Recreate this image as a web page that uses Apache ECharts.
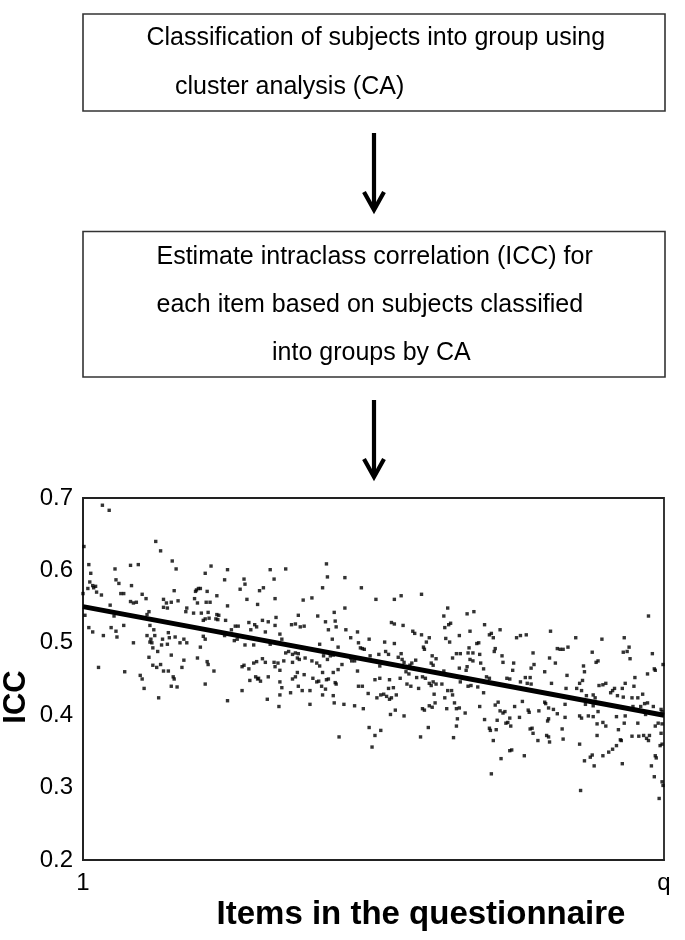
<!DOCTYPE html>
<html>
<head>
<meta charset="utf-8">
<script src="https://cdn.jsdelivr.net/npm/echarts@6/dist/echarts.min.js"></script>
<style>
html,body{margin:0;padding:0;background:#fff;}
#chart{width:685px;height:940px;}
</style>
</head>
<body>
<div id="chart"></div>
<script>
// ---------- data ----------
const FONT = '"Liberation Sans", Arial, Helvetica, sans-serif';
const box1Lines = ['Classification of subjects into group using', 'cluster analysis (CA)'];
const box2Lines = ['Estimate intraclass correlation (ICC) for', 'each item based on subjects classified', 'into groups by CA'];
const yAxisTitle = 'ICC';
const xAxisTitle = 'Items in the questionnaire';
const yTickRange = [0.2, 0.7];
const yTickStep = 0.1;
const itemRange = [1, 600];           // item 1 ... item q
const xTickValues = [1, 600];
const xTickLabels = ['1', 'q'];
const fitLineX = [1, 600];
const fitLineY = [0.55, 0.40];

// [item index, ICC]
const pointsA = [
[21,0.690],[28,0.683],[2,0.633],[76,0.640],[81,0.627],[7,0.608],[9,0.596],[34,0.602],[50,0.607],[58,0.608],[93,0.613],[97,0.602],[127,0.596],[133,0.606],[8,0.584],[35,0.587],[38,0.582],[51,0.579],[11,0.579],[14,0.578],[12,0.576],[6,0.575],[1,0.568],[15,0.570],[20,0.566],[40,0.568],[43,0.568],[62,0.567],[66,0.561],[84,0.560],[95,0.572],[118,0.573],[120,0.575],[117,0.571],[122,0.575],[129,0.571],[139,0.565],[116,0.561],
[50,0.557],[53,0.555],[56,0.556],[87,0.555],[92,0.556],[88,0.548],[84,0.549],[99,0.558],[108,0.548],[107,0.543],[119,0.555],[128,0.556],[132,0.556],[29,0.552],[3,0.538],[33,0.537],[69,0.543],[67,0.539],[115,0.541],[123,0.541],[130,0.542],[127,0.533],[125,0.531],[131,0.534],[139,0.539],[140,0.532],[7,0.521],[11,0.515],[22,0.510],[30,0.521],[35,0.516],[36,0.508],[43,0.524],[70,0.524],[74,0.518],[67,0.510],[71,0.505],[75,0.510],[83,0.505],[82,0.497],[72,0.500],[70,0.501],[73,0.493],[78,0.488],[89,0.514],[90,0.507],[88,0.498],[96,0.508],[101,0.500],[105,0.505],[108,0.500],[125,0.509],[127,0.505],[53,0.500],[122,0.494],[92,0.483],[69,0.480],[105,0.476],[103,0.466],[119,0.479],[129,0.474],[130,0.470],[136,0.461],[17,0.466],[44,0.460],[73,0.469],[77,0.466],[81,0.470],[84,0.461],[89,0.461],[60,0.455],[62,0.450],[64,0.437],[94,0.453],[95,0.450],[92,0.440],[98,0.439],[127,0.443],[79,0.424]
];
const pointsB = [
[150,0.601],[147,0.587],[167,0.588],[168,0.581],[163,0.574],[194,0.601],[210,0.602],[198,0.588],[183,0.572],[187,0.576],[252,0.609],[253,0.591],[271,0.590],[248,0.576],[288,0.576],[170,0.560],[199,0.561],[228,0.559],[237,0.562],
[150,0.551],[181,0.553],[141,0.538],[138,0.533],[148,0.531],[154,0.518],[158,0.523],[161,0.523],[172,0.528],[174,0.518],[178,0.525],[180,0.522],[186,0.531],[192,0.529],[200,0.535],[199,0.524],[189,0.515],[204,0.512],[206,0.505],[216,0.525],[220,0.526],[223,0.538],[225,0.522],[229,0.523],[243,0.537],[251,0.529],[260,0.542],[261,0.530],[262,0.522],[254,0.518],[271,0.548],[272,0.518],[277,0.507],[284,0.515],[258,0.505],[285,0.500],[287,0.493],[289,0.492],[147,0.510],
[157,0.503],[160,0.505],[168,0.497],[177,0.497],[194,0.498],[210,0.486],[213,0.488],[217,0.484],[220,0.486],[223,0.485],[222,0.479],[224,0.477],[230,0.479],[245,0.498],[249,0.482],[253,0.477],[256,0.482],[259,0.483],[264,0.494],[277,0.479],[278,0.475],[281,0.475],[268,0.470],[284,0.461],[165,0.467],[167,0.469],[172,0.464],[177,0.472],[180,0.474],[186,0.478],[189,0.473],[198,0.473],[199,0.467],[202,0.472],[204,0.462],[208,0.475],[217,0.473],[222,0.459],[229,0.456],[237,0.475],[242,0.472],[245,0.468],[248,0.459],[259,0.459],[264,0.463],
[173,0.448],[179,0.453],[181,0.450],[184,0.447],[182,0.451],[192,0.453],[204,0.446],[206,0.438],[217,0.450],[220,0.453],[223,0.440],[227,0.434],[235,0.434],[238,0.451],[242,0.446],[244,0.447],[247,0.440],[251,0.436],[252,0.449],[254,0.450],[261,0.445],[262,0.443],[165,0.434],[150,0.420],[191,0.422],[204,0.428],[215,0.431],[203,0.412],[235,0.415],[248,0.428],[259,0.427],[260,0.417],[270,0.415],[281,0.413],[290,0.409],[285,0.440],[289,0.440],[265,0.370]
];
const pointsC = [
[303,0.560],[322,0.560],[329,0.565],[350,0.567],
[319,0.528],[322,0.526],[331,0.524],[341,0.516],[343,0.513],[350,0.511],[358,0.507],[355,0.501],[352,0.494],[353,0.491],[377,0.548],[373,0.537],[380,0.527],[378,0.525],[374,0.521],[397,0.540],[404,0.543],[415,0.525],[431,0.518],[400,0.516],[389,0.510],[420,0.511],[422,0.513],[375,0.506],[379,0.501],[424,0.507],[409,0.500],[407,0.499],[296,0.505],[291,0.491],[312,0.501],[322,0.499],[313,0.488],[316,0.484],[306,0.484],[329,0.485],[326,0.480],[330,0.477],[297,0.482],[286,0.479],[291,0.478],[307,0.468],[361,0.482],[365,0.478],[360,0.472],[362,0.469],[344,0.476],[338,0.469],[340,0.472],[332,0.473],[382,0.479],[386,0.485],[390,0.485],[399,0.493],[403,0.486],[398,0.486],[400,0.477],[403,0.475],[410,0.484],[411,0.472],[414,0.464],[426,0.492],[425,0.488],[433,0.482],[434,0.473],[389,0.465],[397,0.467],[396,0.462],[417,0.453],[420,0.451],[438,0.451],
[302,0.449],[307,0.451],[317,0.449],[328,0.451],[334,0.460],[337,0.457],[345,0.452],[351,0.453],[354,0.451],[358,0.444],[362,0.446],[360,0.441],[365,0.443],[371,0.443],[373,0.461],[384,0.454],[390,0.446],[401,0.441],[398,0.440],[408,0.439],[295,0.430],[304,0.424],[308,0.428],[311,0.429],[314,0.426],[316,0.437],[321,0.438],[317,0.422],[319,0.424],[324,0.428],[335,0.443],[339,0.440],[347,0.437],[363,0.429],[374,0.424],[377,0.434],[381,0.434],[382,0.428],[384,0.417],[364,0.417],[358,0.413],[361,0.411],[351,0.409],[353,0.407],[376,0.409],[386,0.409],[389,0.410],[410,0.412],[414,0.431],[429,0.418],[426,0.414],[431,0.406],[434,0.403],[436,0.405],[439,0.390],[437,0.389],[323,0.407],[318,0.401],[332,0.399],[395,0.403],[387,0.395],[386,0.385],[415,0.394],[428,0.393],[420,0.382],[421,0.379],[427,0.380],[296,0.383],[308,0.379],[302,0.372],[349,0.370],[357,0.383],[383,0.369],[424,0.365],[299,0.356],[432,0.340],[441,0.351],[422,0.319]
];
const pointsD = [
[584,0.537],[448,0.507],[452,0.510],[458,0.511],[483,0.516],[509,0.507],[536,0.505],[559,0.507],[564,0.494],[562,0.488],[558,0.487],[565,0.478],[588,0.485],[490,0.492],[493,0.491],[496,0.491],[501,0.494],[465,0.486],[482,0.479],[488,0.472],[526,0.487],[530,0.473],[532,0.475],[445,0.472],[466,0.470],[463,0.465],[444,0.462],[477,0.460],[517,0.468],[518,0.460],[590,0.464],[591,0.462],[599,0.470],[583,0.457],
[441,0.450],[452,0.446],[457,0.452],[462,0.452],[459,0.444],[463,0.443],[500,0.455],[484,0.444],[516,0.448],[513,0.444],[515,0.434],[510,0.437],[499,0.437],[533,0.441],[537,0.442],[540,0.444],[549,0.437],[545,0.431],[547,0.434],[560,0.444],[557,0.437],[570,0.452],[569,0.440],[552,0.427],[558,0.425],[527,0.428],[529,0.424],[520,0.427],[567,0.424],[573,0.424],[578,0.429],[580,0.416],[583,0.417],[576,0.412],[568,0.412],[589,0.412],[597,0.408],[598,0.405],[454,0.419],[446,0.412],[460,0.407],[461,0.404],[471,0.406],[477,0.418],[478,0.416],[481,0.410],[486,0.408],[490,0.402],[498,0.415],[519,0.415],[527,0.413],
[513,0.399],[515,0.396],[522,0.399],[527,0.398],[532,0.405],[498,0.397],[481,0.395],[480,0.392],[451,0.397],[441,0.396],[442,0.385],[531,0.388],[537,0.390],[540,0.385],[551,0.398],[560,0.399],[559,0.389],[573,0.389],[581,0.401],[591,0.385],[594,0.389],[598,0.388],[462,0.381],[464,0.382],[465,0.375],[495,0.381],[479,0.372],[481,0.370],[470,0.365],[482,0.363],[496,0.367],[531,0.372],[553,0.380],[555,0.366],[556,0.365],[567,0.371],[574,0.371],[579,0.372],[582,0.368],[584,0.365],[585,0.372],[597,0.375],[598,0.360],[596,0.358],[513,0.360],[443,0.352],[456,0.344],[518,0.337],[524,0.342],[526,0.345],[528,0.330],[537,0.344],[543,0.349],[547,0.353],[551,0.358],[557,0.333],[591,0.344],[592,0.341],[587,0.330],[590,0.315],[598,0.308],[599,0.303],[514,0.296],[595,0.285]
];

// ---------- chart ----------
const allPoints = pointsA.concat(pointsB, pointsC, pointsD);
const fitLine = fitLineX.map((x, i) => [x, fitLineY[i]]);

const chart = echarts.init(document.getElementById('chart'), null, {renderer: 'canvas'});

function textEl(str, x, y, size, weight, align, rot) {
  return {
    type: 'text', x: x, y: y, rotation: rot || 0, silent: true,
    style: { text: str, fill: '#000', font: (weight || 'normal') + ' ' + size + 'px ' + FONT,
             textAlign: align || 'left', textVerticalAlign: 'middle' }
  };
}
function arrowEl(cx, y0, y1) {
  return [
    { type: 'line', silent: true, shape: { x1: cx, y1: y0, x2: cx, y2: y1 - 2 },
      style: { stroke: '#000', lineWidth: 4.2 } },
    { type: 'polyline', silent: true, shape: { points: [[cx - 10, y1 - 18], [cx, y1], [cx + 10, y1 - 18]] },
      style: { stroke: '#000', lineWidth: 4.2, fill: null, lineJoin: 'miter' } }
  ];
}

const graphics = [
  { type: 'rect', silent: true, shape: { x: 83, y: 14, width: 582, height: 97 },
    style: { fill: null, stroke: '#333', lineWidth: 1.6 } },
  { type: 'rect', silent: true, shape: { x: 83, y: 231.5, width: 582, height: 145.5 },
    style: { fill: null, stroke: '#333', lineWidth: 1.6 } },
  textEl(box1Lines[0], 146.5, 38.5, 25),
  textEl(box1Lines[1], 175, 87, 25),
  textEl(box2Lines[0], 156.5, 257, 25),
  textEl(box2Lines[1], 156.5, 305, 25),
  textEl(box2Lines[2], 272, 353, 25),
  textEl(yAxisTitle, 16, 697, 31, 'bold', 'center', Math.PI / 2),
  textEl(xAxisTitle, 421, 915, 33, 'bold', 'center')
].concat(arrowEl(374, 133, 210), arrowEl(374, 400, 477));

chart.setOption({
  animation: false,
  backgroundColor: '#fff',
  graphic: graphics,
  grid: { left: 83, top: 498, width: 581, height: 362, show: true,
          borderColor: '#222', borderWidth: 1.8, backgroundColor: 'transparent' },
  xAxis: {
    type: 'value', min: itemRange[0], max: itemRange[1],
    axisLine: { show: true, onZero: false, lineStyle: { color: '#222', width: 1.8 } },
    axisTick: { show: false }, splitLine: { show: false },
    axisLabel: { customValues: xTickValues, margin: 11, color: '#000', fontSize: 24, fontFamily: FONT,
                 formatter: function (v) { const i = xTickValues.indexOf(v); return i >= 0 ? xTickLabels[i] : ''; } }
  },
  yAxis: {
    type: 'value', min: yTickRange[0], max: yTickRange[1], interval: yTickStep,
    axisLine: { show: true, onZero: false, lineStyle: { color: '#222', width: 1.8 } },
    axisTick: { show: false }, splitLine: { show: false },
    axisLabel: { margin: 10, color: '#000', fontSize: 24, fontFamily: FONT,
                 formatter: function (v) { return v.toFixed(1); } }
  },
  series: [
    { type: 'scatter', data: allPoints, symbol: 'rect', symbolSize: 3.4, silent: true,
      itemStyle: { color: '#000' }, z: 2 },
    { type: 'line', data: fitLine, showSymbol: false, silent: true,
      lineStyle: { color: '#000', width: 5 }, z: 3 }
  ]
});
</script>
</body>
</html>
